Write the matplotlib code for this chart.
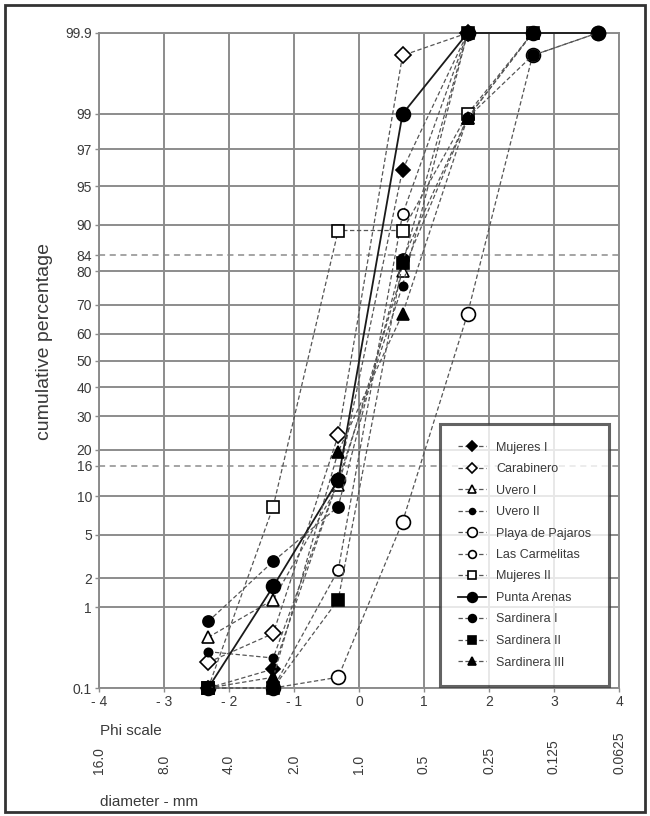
"""
Cumulative grain-size curves on probability paper (phi scale).
Run: python plot.py
"""

from math import erf, sqrt

import matplotlib

matplotlib.use("Agg")
import matplotlib.pyplot as plt
import matplotlib.transforms as mtransforms
import numpy as np
from matplotlib.patches import Rectangle

plt.rcParams["font.family"] = ["Liberation Sans", "DejaVu Sans"]

# sieve classes in phi units
PHI = [-2.32, -1.32, -0.32, 0.67, 1.67, 2.67, 3.67]

# cumulative percentage per beach (None = not plotted)
MUJERES_I = [0.1, 0.18, 13, 96.4, 99.9, None, None]
CARABINERO = [0.22, 0.5, 24, 99.8, 99.9, None, None]
UVERO_I = [0.45, 1.2, 12, 80, 98.9, 99.9, None]
UVERO_II = [0.3, 0.25, 13, 76, 99.9, None, None]
PLAYA_PAJAROS = [None, 0.1, 0.14, 6.4, 67, 99.8, 99.9]
LAS_CARMELITAS = [0.1, 0.1, 2.4, 91.6, 99.9, None, None]
MUJERES_II = [0.1, 8.4, 89, 89, 99, 99.9, None]
PUNTA_ARENAS = [0.1, 1.65, 13, 99, 99.9, 99.9, 99.9]
SARDINERA_I = [0.69, 2.9, 8.4, 83, 98.9, 99.8, 99.9]
SARDINERA_II = [0.1, 0.1, 1.2, 82, 99.9, None, None]
SARDINERA_III = [0.1, 0.14, 19.5, 67, 98.9, 99.9, None]

# (name, values, marker, size, filled, solid line)
SERIES = [
    ("Mujeres I", MUJERES_I, "D", 7, True, False),
    ("Carabinero", CARABINERO, "D", 8, False, False),
    ("Uvero I", UVERO_I, "^", 8, False, False),
    ("Uvero II", UVERO_II, "o", 6, True, False),
    ("Playa de Pajaros", PLAYA_PAJAROS, "o", 10, False, False),
    ("Las Carmelitas", LAS_CARMELITAS, "o", 8, False, False),
    ("Mujeres II", MUJERES_II, "s", 9, False, False),
    ("Punta Arenas", PUNTA_ARENAS, "o", 10, True, True),
    ("Sardinera I", SARDINERA_I, "o", 8, True, False),
    ("Sardinera II", SARDINERA_II, "s", 8, True, False),
    ("Sardinera III", SARDINERA_III, "^", 8, True, False),
]

Y_TICKS = [0.1, 1, 2, 5, 10, 16, 20, 30, 40, 50, 60, 70, 80, 84, 90, 95, 97.7, 99, 99.9]
Y_LABELS = ["0.1", "1", "2", "5", "10", "16", "20", "30", "40", "50", "60",
            "70", "80", "84", "90", "95", "97", "99", "99.9"]
DASHED_LEVELS = [16, 84]
X_TICKS = [-4, -3, -2, -1, 0, 1, 2, 3, 4]
DIAMETERS = ["16.0", "8.0", "4.0", "2.0", "1.0", "0.5", "0.25", "0.125", "0.0625"]

GRID = "#8c8c8c"
TEXT = "#3a3a3a"

# probability scale (normal quantile) via a dense lookup table
Z_GRID = np.linspace(-4.5, 4.5, 4001)
P_GRID = np.array([50.0 * (1.0 + erf(z / sqrt(2.0))) for z in Z_GRID])


def pct_to_z(p):
    return np.interp(p, P_GRID, Z_GRID)


def z_to_pct(z):
    return np.interp(z, Z_GRID, P_GRID)


def main():
    fig = plt.figure(figsize=(6.5, 8.16), dpi=100)
    ax = fig.add_axes([99 / 650, 1 - 688 / 816, 520 / 650, 655 / 816])

    ax.set_yscale("function", functions=(pct_to_z, z_to_pct))
    ax.set_xlim(-4, 4)
    ax.set_ylim(0.1, 99.9)

    # grid
    for y in Y_TICKS:
        if y in DASHED_LEVELS:
            ax.axhline(y, color=GRID, lw=1.1, ls=(0, (4, 3)), zorder=1)
        else:
            ax.axhline(y, color=GRID, lw=1.4, zorder=1)
    for x in X_TICKS:
        ax.axvline(x, color=GRID, lw=1.4, zorder=1)
    for s in ax.spines.values():
        s.set_color(GRID)
        s.set_linewidth(1.4)

    ax.set_yticks(Y_TICKS)
    ax.set_yticklabels(Y_LABELS)
    ax.yaxis.set_minor_locator(matplotlib.ticker.NullLocator())
    ax.set_xticks(X_TICKS)
    ax.set_xticklabels([str(v).replace("-", "- ") for v in X_TICKS])
    ax.tick_params(axis="both", colors=GRID, labelcolor=TEXT, labelsize=10,
                   length=3, width=1)
    ax.tick_params(axis="y", pad=2)
    ax.tick_params(axis="x", pad=2)

    handles = []
    for name, vals, marker, size, filled, solid in SERIES:
        xs = [x for x, v in zip(PHI, vals) if v is not None]
        ys = [v for v in vals if v is not None]
        line, = ax.plot(
            xs, ys,
            color="#1a1a1a" if solid else "#555555",
            lw=1.3 if solid else 0.9,
            ls="-" if solid else (0, (3.5, 2)),
            marker=marker, ms=size,
            mfc="black" if filled else "white",
            mec="black", mew=1.2,
            clip_on=False, zorder=3,
            label=name,
        )
        handles.append(line)

    leg = fig.legend(
        handles=handles, loc="upper left",
        bbox_to_anchor=(440 / 650, 1 - 424 / 816),
        fontsize=9, frameon=True, fancybox=False, markerscale=0.7,
        borderpad=1.4, labelspacing=0.76, handlelength=2.3,
        handletextpad=0.8, borderaxespad=0,
    )
    frame = leg.get_frame()
    frame.set_edgecolor("#3c3c3c")
    frame.set_linewidth(2.2)
    for t in leg.get_texts():
        t.set_color(TEXT)

    # second axis description: grain diameter in mm
    trans = mtransforms.blended_transform_factory(ax.transData, fig.transFigure)
    for x, d in zip(X_TICKS, DIAMETERS):
        ax.text(x, 1 - 774 / 816, d, transform=trans, rotation=90,
                ha="center", va="bottom", fontsize=10, color=TEXT)

    fig.text(100 / 650, 1 - 731 / 816, "Phi scale", ha="left", va="center",
             fontsize=11, color=TEXT)
    fig.text(100 / 650, 1 - 802 / 816, "diameter - mm", ha="left", va="center",
             fontsize=11, color=TEXT)
    fig.text(45 / 650, 1 - 341 / 816, "cumulative percentage", rotation=90,
             ha="center", va="center", fontsize=14, color=TEXT)

    fig.patches.append(Rectangle((5 / 650, 4 / 816), 640 / 650, 807 / 816,
                                 transform=fig.transFigure, fill=False,
                                 ec="#333333", lw=2))

    fig.savefig("out.png", dpi=100)
    plt.close(fig)


if __name__ == "__main__":
    main()
